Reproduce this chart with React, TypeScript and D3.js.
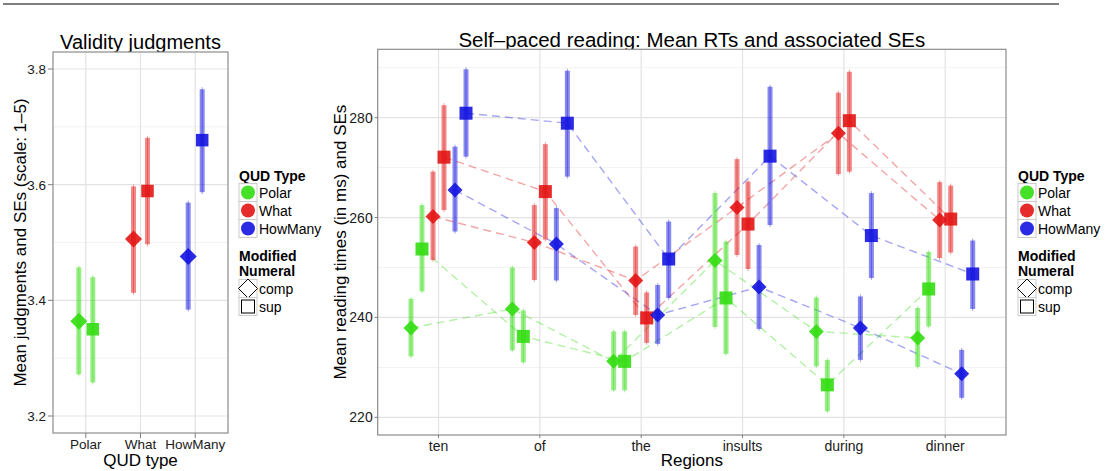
import React from 'react'
import * as d3 from 'd3'

// categories
const qudTypes = ['Polar', 'What', 'HowMany']
const numerals = ['comp', 'sup']
const regions = ['ten', 'of', 'the', 'insults', 'during', 'dinner']

// validity judgments (index = QUD type)
const valCompMean = [3.364, 3.506, 3.476]
const valCompLo = [3.272, 3.413, 3.384]
const valCompHi = [3.457, 3.597, 3.569]
const valSupMean = [3.35, 3.589, 3.677]
const valSupLo = [3.258, 3.497, 3.587]
const valSupHi = [3.44, 3.681, 3.765]
const valTicks = [3.2, 3.4, 3.6, 3.8]

// self-paced reading RTs (index = region)
const rtPolarComp = [237.9, 241.7, 231.2, 251.4, 237.2, 235.9]
const rtPolarCompLo = [232.2, 233.4, 225.4, 238.1, 230.2, 230.1]
const rtPolarCompHi = [243.7, 250.0, 237.2, 264.9, 244.0, 241.9]
const rtPolarSup = [253.7, 236.2, 231.2, 243.9, 226.5, 245.7]
const rtPolarSupLo = [245.2, 231.0, 225.4, 232.7, 221.2, 238.2]
const rtPolarSupHi = [262.5, 241.4, 237.2, 255.2, 231.5, 253.1]
const rtWhatComp = [260.2, 255.0, 247.4, 262.0, 276.9, 259.5]
const rtWhatCompLo = [251.5, 247.5, 240.5, 252.5, 268.7, 251.9]
const rtWhatCompHi = [269.2, 262.5, 254.2, 271.7, 285.0, 267.1]
const rtWhatSup = [272.1, 265.2, 239.9, 258.7, 279.4, 259.7]
const rtWhatSupLo = [261.5, 255.6, 234.9, 249.7, 269.2, 253.0]
const rtWhatSupHi = [282.5, 274.7, 245.0, 267.2, 289.2, 266.4]
const rtHowManyComp = [265.5, 254.7, 240.5, 246.1, 237.9, 228.7]
const rtHowManyCompLo = [257.2, 247.4, 234.7, 237.7, 231.5, 223.9]
const rtHowManyCompHi = [274.2, 261.9, 246.5, 254.5, 244.2, 233.5]
const rtHowManySup = [280.9, 278.9, 251.7, 272.3, 256.4, 248.7]
const rtHowManySupLo = [272.2, 268.2, 243.9, 258.5, 247.9, 241.7]
const rtHowManySupHi = [289.7, 289.4, 259.2, 286.2, 264.9, 255.4]
const rtTicks = [220, 240, 260, 280]

const qudColors = ['#33DD11', '#E31414', '#1414E0']
const FONT = '"Liberation Sans", Arial, Helvetica, sans-serif'

const valSeries = [
  { num: 0, mean: valCompMean, lo: valCompLo, hi: valCompHi },
  { num: 1, mean: valSupMean, lo: valSupLo, hi: valSupHi },
]

const rtSeries = [
  { qud: 0, num: 0, mean: rtPolarComp, lo: rtPolarCompLo, hi: rtPolarCompHi },
  { qud: 0, num: 1, mean: rtPolarSup, lo: rtPolarSupLo, hi: rtPolarSupHi },
  { qud: 1, num: 0, mean: rtWhatComp, lo: rtWhatCompLo, hi: rtWhatCompHi },
  { qud: 1, num: 1, mean: rtWhatSup, lo: rtWhatSupLo, hi: rtWhatSupHi },
  { qud: 2, num: 0, mean: rtHowManyComp, lo: rtHowManyCompLo, hi: rtHowManyCompHi },
  { qud: 2, num: 1, mean: rtHowManySup, lo: rtHowManySupLo, hi: rtHowManySupHi },
]

const Marker = ({ x, y, num, color, d, s }) =>
  num === 0 ? (
    <path d={`M${x},${y - d}L${x + d},${y}L${x},${y + d}L${x - d},${y}Z`} fill={color} opacity={0.9} />
  ) : (
    <rect x={x - s / 2} y={y - s / 2} width={s} height={s} fill={color} opacity={0.9} />
  )

const ErrBar = ({ x, y1, y2, color }) => (
  <g>
    <rect x={x - 2.5} y={y1} width={5} height={y2 - y1} fill={color} opacity={0.5} />
    <line x1={x} x2={x} y1={y1 - 2} y2={y2 + 2} stroke={color} strokeWidth={1} opacity={0.4} />
  </g>
)

const Frame = ({ box, xs, ys, cats, ticks, tickLen, tickFont, minor }) => (
  <g>
    <rect x={box.x0} y={box.y0} width={box.x1 - box.x0} height={box.y1 - box.y0} fill="white" />
    {minor.map((t) => (
      <line key={'m' + t} x1={box.x0} x2={box.x1} y1={ys(t)} y2={ys(t)} stroke="#F2F2F2" strokeWidth={1} />
    ))}
    {ticks.map((t) => (
      <line key={'g' + t} x1={box.x0} x2={box.x1} y1={ys(t)} y2={ys(t)} stroke="#E3E3E3" strokeWidth={1.2} />
    ))}
    {cats.map((c, i) => (
      <line key={'v' + c} x1={xs(i)} x2={xs(i)} y1={box.y0} y2={box.y1} stroke="#E3E3E3" strokeWidth={1.2} />
    ))}
    <rect x={box.x0} y={box.y0} width={box.x1 - box.x0} height={box.y1 - box.y0} fill="none" stroke="#8C8C8C" strokeWidth={1.2} />
    {ticks.map((t) => (
      <g key={'t' + t}>
        <line x1={box.x0 - tickLen} x2={box.x0} y1={ys(t)} y2={ys(t)} stroke="#7F7F7F" />
        <text x={box.x0 - tickLen - 2} y={ys(t) + 5} textAnchor="end" fontSize={tickFont} fill="#1a1a1a">
          {t}
        </text>
      </g>
    ))}
    {cats.map((c, i) => (
      <g key={'xt' + c}>
        <line x1={xs(i)} x2={xs(i)} y1={box.y1} y2={box.y1 + tickLen} stroke="#7F7F7F" />
        <text x={xs(i)} y={box.y1 + 15.5} textAnchor="middle" fontSize={tickFont} fill="#1a1a1a">
          {c}
        </text>
      </g>
    ))}
  </g>
)

const Legend = ({ x }) => (
  <g>
    <text x={x} y={181} fontSize={14} fontWeight="bold">QUD Type</text>
    {qudTypes.map((q, i) => (
      <g key={q}>
        <rect x={x} y={183.5 + i * 18} width={18} height={18} fill="white" stroke="#CCCCCC" />
        <circle cx={x + 9} cy={192.5 + i * 18} r={7} fill={qudColors[i]} opacity={0.9} />
        <text x={x + 20} y={197.5 + i * 18} fontSize={14}>{q}</text>
      </g>
    ))}
    <text x={x} y={261} fontSize={14} fontWeight="bold">Modified</text>
    <text x={x} y={276} fontSize={14} fontWeight="bold">Numeral</text>
    {numerals.map((n, i) => {
      const cy = 288.5 + i * 18
      return (
        <g key={n}>
          <rect x={x} y={cy - 9} width={18} height={18} fill="white" stroke="#CCCCCC" />
          {i === 0 ? (
            <path d={`M${x + 9},${cy - 9.5}L${x + 18.5},${cy}L${x + 9},${cy + 9.5}L${x - 0.5},${cy}Z`} fill="white" stroke="black" strokeWidth={1} />
          ) : (
            <rect x={x + 2.5} y={cy - 6.5} width={13} height={13} fill="white" stroke="black" strokeWidth={1} />
          )}
          <text x={x + 20} y={cy + 5} fontSize={14}>{n}</text>
        </g>
      )
    })}
  </g>
)

export default function App() {
  const boxL = { x0: 53, x1: 228, y0: 52, y1: 433 }
  const boxR = { x0: 377.7, x1: 1006, y0: 49.3, y1: 435 }

  const xL = d3.scaleLinear().domain([-0.6, 2.6]).range([boxL.x0, boxL.x1])
  const yL = d3.scaleLinear().domain([3.2, 3.8]).range([416, 69])
  const xR = d3.scaleLinear().domain([-0.6, 5.6]).range([boxR.x0, boxR.x1])
  const yR = d3.scaleLinear().domain([220, 280]).range([417.3, 117.7])

  const dodgeL = (num) => (num - 0.5) * 0.256
  const dodgeR = (qud, num) => (qud * 2 + num - 2.5) * 0.1086

  return (
    <svg width={1107} height={471} style={{ position: 'absolute', left: 0, top: 0, fontFamily: FONT }}>
      <rect width={1107} height={471} fill="white" />
      <line x1={3} x2={1059} y1={4} y2={4} stroke="#555" strokeWidth={1.5} />

      {/* left panel */}
      <text x={(boxL.x0 + boxL.x1) / 2} y={49} textAnchor="middle" fontSize={20}>Validity judgments</text>
      <Frame box={boxL} xs={xL} ys={yL} cats={qudTypes} ticks={valTicks} tickLen={5} tickFont={13.5} minor={[3.3, 3.5, 3.7]} />
      {valSeries.map((s) =>
        qudTypes.map((q, i) => (
          <ErrBar key={q + s.num} x={xL(i + dodgeL(s.num))} y1={yL(s.hi[i])} y2={yL(s.lo[i])} color={qudColors[i]} />
        )),
      )}
      {valSeries.map((s) =>
        qudTypes.map((q, i) => (
          <Marker key={q + s.num} x={xL(i + dodgeL(s.num))} y={yL(s.mean[i])} num={s.num} color={qudColors[i]} d={8.5} s={12.5} />
        )),
      )}
      <text x={(boxL.x0 + boxL.x1) / 2} y={466} textAnchor="middle" fontSize={17}>QUD type</text>
      <text transform={`translate(26,${(boxL.y0 + boxL.y1) / 2}) rotate(-90)`} textAnchor="middle" fontSize={17}>
        Mean judgments and SEs (scale: 1–5)
      </text>
      <Legend x={239} />

      {/* right panel */}
      <text x={(boxR.x0 + boxR.x1) / 2} y={47} textAnchor="middle" fontSize={20.5}>
        Self–paced reading: Mean RTs and associated SEs
      </text>
      <Frame box={boxR} xs={xR} ys={yR} cats={regions} ticks={rtTicks} tickLen={3} tickFont={14} minor={[230, 250, 270, 290]} />
      {rtSeries.map((s) => {
        const pts = s.mean.map((v, i) => [xR(i + dodgeR(s.qud, s.num)), yR(v)] as [number, number])
        return (
          <path
            key={'l' + s.qud + s.num}
            d={d3.line()(pts) || ''}
            fill="none"
            stroke={qudColors[s.qud]}
            strokeWidth={1.4}
            strokeDasharray="8,5"
            opacity={0.38}
          />
        )
      })}
      {rtSeries.map((s) =>
        regions.map((r, i) => (
          <ErrBar key={r + s.qud + s.num} x={xR(i + dodgeR(s.qud, s.num))} y1={yR(s.hi[i])} y2={yR(s.lo[i])} color={qudColors[s.qud]} />
        )),
      )}
      {rtSeries.map((s) =>
        regions.map((r, i) => (
          <Marker key={r + s.qud + s.num} x={xR(i + dodgeR(s.qud, s.num))} y={yR(s.mean[i])} num={s.num} color={qudColors[s.qud]} d={7.5} s={13} />
        )),
      )}
      <text x={(boxR.x0 + boxR.x1) / 2} y={466} textAnchor="middle" fontSize={17}>Regions</text>
      <text transform={`translate(346,${(boxR.y0 + boxR.y1) / 2}) rotate(-90)`} textAnchor="middle" fontSize={17}>
        Mean reading times (in ms) and SEs
      </text>
      <Legend x={1018} />
    </svg>
  )
}
